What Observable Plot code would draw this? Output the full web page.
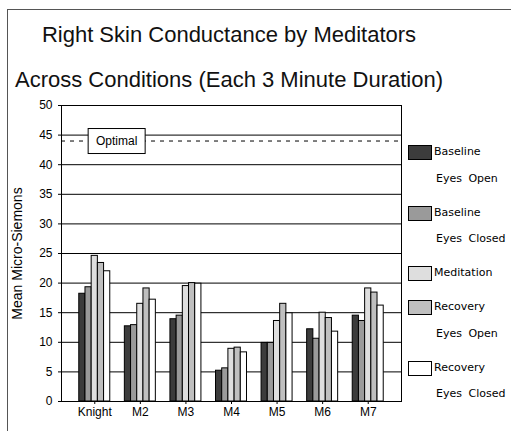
<!DOCTYPE html>
<html>
<head>
<meta charset="utf-8">
<script src="https://cdn.jsdelivr.net/npm/d3@7"></script>
<script src="https://cdn.jsdelivr.net/npm/@observablehq/plot@0.6"></script>
<style>
  html, body { margin: 0; padding: 0; background: #fff; overflow: hidden; }
  #wrap { position: relative; width: 511px; height: 431px; overflow: hidden; font-family: "Liberation Sans", Arial, sans-serif; }
  #outer { position: absolute; left: 7px; top: 9px; width: 700px; height: 700px; border: 1px solid #555; box-sizing: border-box; z-index: 5; pointer-events: none; background: transparent; }
  .title { position: absolute; left: 0; width: 458px; text-align: center; font-size: 22px; color: #111; white-space: nowrap; line-height: 26px; z-index: 2; }
  #chart { position: absolute; left: 0; top: 0; z-index: 1; }
  #legend { position: absolute; left: 408px; top: 139px; font-family: "DejaVu Sans", sans-serif; font-size: 11px; color: #000; z-index: 2; }
  .item { position: relative; margin-bottom: 7.5px; }
  .sw { position: absolute; left: 0; top: 6px; width: 24px; height: 15px; border: 1px solid #000; box-sizing: border-box; }
  .line { margin-left: 26px; line-height: 26.5px; height: 26.5px; white-space: nowrap; word-spacing: 3px; }
  .line.sub { margin-left: 28px; }
</style>
</head>
<body>
<div id="wrap">
  <div id="chart"></div>
  <div class="title" id="t1" style="top:22px"></div>
  <div class="title" id="t2" style="top:67px"></div>
  <div id="legend"></div>
  <div id="outer"></div>
</div>
<script>
const titleLines = ["Right Skin Conductance by Meditators", "Across Conditions (Each 3 Minute Duration)"];
const yLabel = "Mean Micro-Siemons";
const categories = ["Knight", "M2", "M3", "M4", "M5", "M6", "M7"];
const series = ["Baseline Eyes Open", "Baseline Eyes Closed", "Meditation", "Recovery Eyes Open", "Recovery Eyes Closed"];
const legendLabels = [["Baseline", "Eyes Open"], ["Baseline", "Eyes Closed"], ["Meditation"], ["Recovery", "Eyes Open"], ["Recovery", "Eyes Closed"]];
const colors = ["#3c3c3c", "#9a9a9a", "#dedede", "#bfbfbf", "#ffffff"];

const baselineEyesOpen   = [18.2, 12.7, 13.9, 5.2,  9.9, 12.2, 14.5];
const baselineEyesClosed = [19.3, 12.9, 14.5, 5.6,  9.9, 10.6, 13.6];
const meditation         = [24.6, 16.5, 19.5, 8.9, 13.6, 15.0, 19.1];
const recoveryEyesOpen   = [23.4, 19.1, 20.0, 9.1, 16.5, 14.1, 18.4];
const recoveryEyesClosed = [22.0, 17.2, 19.9, 8.3, 14.9, 11.8, 16.2];
const seriesValues = [baselineEyesOpen, baselineEyesClosed, meditation, recoveryEyesOpen, recoveryEyesClosed];

const yTicks = [0, 5, 10, 15, 20, 25, 30, 35, 40, 45, 50];
const optimalLevel = 44;
const optimalLabel = "Optimal";
const optimalLabelX = 0.48;

document.getElementById("t1").textContent = titleLines[0];
document.getElementById("t2").textContent = titleLines[1];

const data = categories.flatMap((c, i) => series.map((s, j) => ({cat: c, i, j, s, v: seriesValues[j][i]})));
const groupW = 0.68, barW = groupW / series.length;

const chart = Plot.plot({
  width: 511,
  height: 431,
  marginLeft: 61,
  marginRight: 110,
  marginTop: 105,
  marginBottom: 30,
  style: {fontFamily: "'Liberation Sans', Arial, sans-serif", fontSize: "12px", background: "transparent", color: "#000"},
  x: {domain: [-0.73, categories.length - 1 + 0.73], axis: null},
  y: {domain: [0, 50], axis: null},
  color: {domain: series, range: colors},
  marks: [
    Plot.ruleY(yTicks.filter(t => t > 0 && t < 50), {stroke: "#000", strokeWidth: 1}),
    Plot.ruleY([optimalLevel], {stroke: "#000", strokeDasharray: "4,5"}),
    Plot.rect(data, {
      x1: d => d.i - groupW / 2 + d.j * barW,
      x2: d => d.i - groupW / 2 + (d.j + 1) * barW,
      y1: 0, y2: "v",
      fill: "s", stroke: "#000", strokeWidth: 1
    }),
    Plot.frame({stroke: "#000"}),
    Plot.axisY({ticks: yTicks, tickSize: 3, tickPadding: 6, label: null, fontSize: 12}),
    Plot.axisX({ticks: d3.range(categories.length), tickFormat: i => categories[i], tickSize: 3, tickPadding: 3, label: null, fontSize: 12}),
    Plot.text([yLabel], {frameAnchor: "left", dx: -44, rotate: -90, textAnchor: "middle", text: d => d, fontSize: 14}),
    Plot.text([optimalLabel], {x: optimalLabelX, y: optimalLevel, text: d => d, fontSize: 12})
  ]
});
document.getElementById("chart").appendChild(chart);

// box around the annotation
const lab = Array.from(chart.querySelectorAll("text")).find(t => t.textContent === optimalLabel);
if (lab) {
  const bb = lab.getBBox();
  const r = document.createElementNS("http://www.w3.org/2000/svg", "rect");
  r.setAttribute("x", Math.round(bb.x - 8) + 0.5);
  r.setAttribute("y", Math.round(bb.y - 6) + 0.5);
  r.setAttribute("width", Math.round(bb.width + 16));
  r.setAttribute("height", Math.round(bb.height + 11));
  r.setAttribute("fill", "#fff");
  r.setAttribute("stroke", "#000");
  if (lab.getAttribute("transform")) r.setAttribute("transform", lab.getAttribute("transform"));
  lab.parentNode.insertBefore(r, lab);
}

// legend
const legend = document.getElementById("legend");
series.forEach((s, j) => {
  const item = document.createElement("div");
  item.className = "item";
  const sw = document.createElement("div");
  sw.className = "sw";
  sw.style.background = colors[j];
  item.appendChild(sw);
  legendLabels[j].forEach((t, k) => {
    const ln = document.createElement("div");
    ln.className = "line" + (k > 0 ? " sub" : "");
    ln.textContent = t;
    item.appendChild(ln);
  });
  legend.appendChild(item);
});
</script>
</body>
</html>
